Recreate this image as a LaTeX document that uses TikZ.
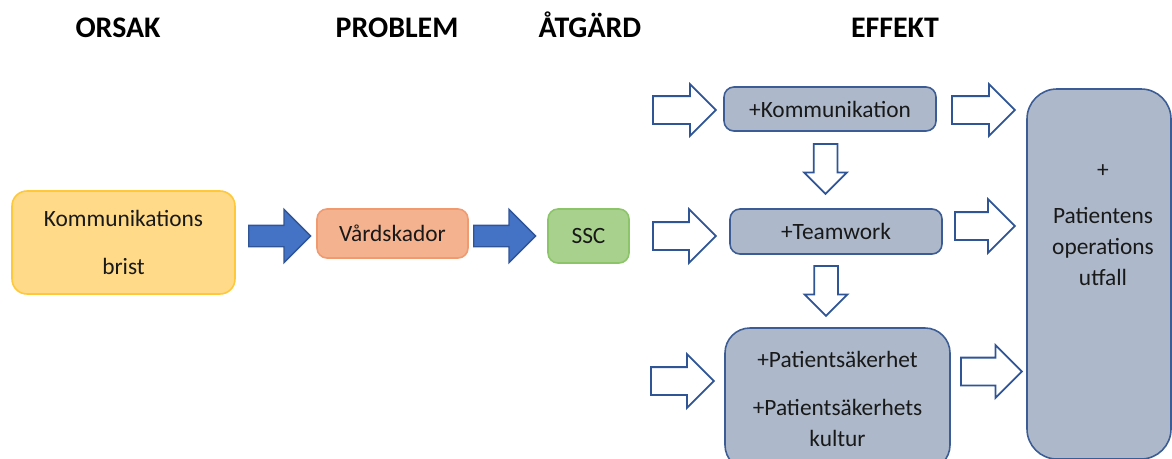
\documentclass[tikz,border=0pt]{standalone}
\usepackage{fontspec}
\setmainfont{Carlito}
\usetikzlibrary{shapes.arrows}

\definecolor{orsakfill}{HTML}{FFDA88}
\definecolor{orsakline}{HTML}{FFC83A}
\definecolor{vardfill}{HTML}{F4B28F}
\definecolor{vardline}{HTML}{F09A70}
\definecolor{sscfill}{HTML}{A9D18E}
\definecolor{sscline}{HTML}{8CC46A}
\definecolor{effektfill}{HTML}{ADB9CA}
\definecolor{effektline}{HTML}{3B5C94}
\definecolor{pilfill}{HTML}{4472C4}
\definecolor{pilline}{HTML}{2F5597}

\tikzset{
  rubrik/.style={font=\fontsize{17}{20}\selectfont\bfseries, anchor=base},
  ruta/.style={rounded corners=0.3cm, line width=0.9pt, align=center,
    inner sep=0pt, font=\fontsize{13.3}{17.5}\selectfont, text=black!90},
  effekt/.style={ruta, fill=effektfill, draw=effektline},
  % the shaft width comes from text height, the head from minimum width
  blapil/.style={single arrow, anchor=tail, fill=pilfill, draw=pilline, line width=0.8pt,
    minimum height=1.24cm, minimum width=1.04cm, single arrow head extend=0.32cm,
    inner sep=0pt, text height=0.40cm, text depth=0pt, text width=0pt},
  vitpil/.style={single arrow, anchor=tail, fill=white, draw=pilline, line width=1pt,
    minimum height=1.26cm, minimum width=1.0cm, single arrow head extend=0.24cm,
    inner sep=0pt, text height=0.52cm, text depth=0pt, text width=0pt},
  nedpil/.style={vitpil, rotate=-90, minimum height=1.0cm, minimum width=0.82cm,
    single arrow head extend=0.19cm, text height=0.44cm}
}

\begin{document}
\begin{tikzpicture}
    \useasboundingbox (0,0) rectangle (23.44,-9.18);%

    % Column headings
    \node [rubrik] (orsak) at (2.36,-0.74) {ORSAK};%
    \node [rubrik] (problem) at (7.94,-0.74) {PROBLEM};%
    \node [rubrik] (atgard) at (11.80,-0.74) {ÅTGÄRD};%
    \node [rubrik] (effekt) at (17.90,-0.74) {EFFEKT};%

    % Cause, problem and action
    \node [ruta, fill=orsakfill, draw=orsakline, minimum width=4.46cm, minimum height=2.06cm]
        (brist) at (2.47,-4.85) {Kommunikations\\[10pt]brist};%
    \node [ruta, rounded corners=0.2cm, fill=vardfill, draw=vardline, minimum width=3.02cm, minimum height=0.98cm]
        (vard) at (7.85,-4.67) {Vårdskador};%
    \node [ruta, rounded corners=0.2cm, fill=sscfill, draw=sscline, minimum width=1.62cm, minimum height=1.08cm]
        (ssc) at (11.77,-4.72) {SSC};%

    % Effects
    \node [effekt, rounded corners=0.2cm, minimum width=4.24cm, minimum height=0.88cm]
        (komm) at (16.60,-2.18) {+Kommunikation};%
    \node [effekt, rounded corners=0.2cm, minimum width=4.24cm, minimum height=0.90cm]
        (team) at (16.72,-4.63) {+Teamwork};%
    \node [effekt, rounded corners=0.5cm, minimum width=4.50cm, minimum height=2.84cm]
        (sak) at (16.75,-7.98) {+Patientsäkerhet\\[10pt]+Patientsäkerhets\\kultur};%
    \node [effekt, rounded corners=0.6cm, minimum width=2.88cm, minimum height=7.40cm]
        (utfall) at (21.98,-5.48) {};%
    \node [ruta]
        (utfalltext) at (22.06,-4.50) {+\\[9pt]Patientens\\operations\\utfall};%

    % Filled arrows (placed by their tails)
    \node [blapil] (p1) at (4.96,-4.72) {};%
    \node [blapil] (p2) at (9.46,-4.72) {};%

    % Outlined arrows into the effects
    \node [vitpil] (in1) at (13.04,-2.20) {};%
    \node [vitpil, minimum width=1.04cm, single arrow head extend=0.26cm] (in2) at (13.04,-4.72) {};%
    \node [vitpil, minimum width=1.04cm, single arrow head extend=0.26cm] (in3) at (13.00,-7.62) {};%
    \node [nedpil] (ned1) at (16.51,-2.86) {};%
    \node [nedpil] (ned2) at (16.52,-5.30) {};%

    % Outlined arrows into the outcome
    \node [vitpil] (ut1) at (19.02,-2.20) {};%
    \node [vitpil, minimum height=1.20cm, minimum width=1.04cm, single arrow head extend=0.26cm] (ut2) at (19.08,-4.52) {};%
    \node [vitpil, minimum height=1.22cm, minimum width=1.02cm, single arrow head extend=0.25cm] (ut3) at (19.20,-7.43) {};%
\end{tikzpicture}
\end{document}
